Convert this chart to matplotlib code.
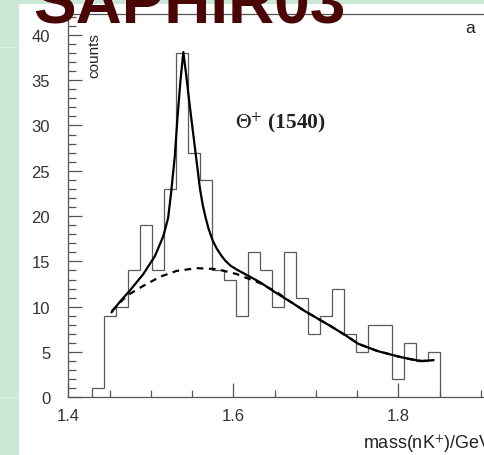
import numpy as np
import matplotlib
matplotlib.use("Agg")
import matplotlib.pyplot as plt
from matplotlib.patches import Rectangle
from matplotlib.ticker import MultipleLocator

plt.rcParams["font.family"] = ["Liberation Sans", "DejaVu Sans"]
plt.rcParams["mathtext.fontset"] = "stix"

# nK+ invariant mass spectrum, 29 bins
counts = [1, 9, 10, 14, 19, 14, 23, 38, 27, 24, 14, 13, 9, 16, 14,
          10, 16, 11, 7, 9, 12, 7, 5, 8, 8, 2, 6, 4, 5]
bin_lo, bin_hi = 1.429, 1.851

# full fit (peak + background)
fit_mass = [1.4526, 1.4630, 1.4748, 1.4909, 1.5051, 1.5152, 1.5210, 1.5245,
            1.5290, 1.5322, 1.5360, 1.5394, 1.5430, 1.5460, 1.5496, 1.5550,
            1.5596, 1.5630, 1.5665, 1.5700, 1.5750, 1.5800, 1.5850, 1.5900,
            1.5970, 1.6041, 1.6182, 1.6324, 1.6505, 1.6700, 1.6869, 1.7172,
            1.7350, 1.7515, 1.7750, 1.8000, 1.8150, 1.8284, 1.8424]
fit_total = [9.4, 10.6, 11.8, 13.6, 15.6, 17.8, 19.8, 22.5,
             26.5, 30.7, 35.0, 38.1, 35.5, 33.1, 30.4, 26.4,
             23.0, 21.2, 19.8, 18.6, 17.3, 16.4, 15.7, 15.1,
             14.5, 14.1, 13.4, 12.7, 11.6, 10.5, 9.5, 7.9,
             6.9, 5.9, 5.1, 4.5, 4.2, 4.0, 4.1]

# background part of the fit
bkg_mass = [1.4526, 1.4707, 1.4909, 1.5111, 1.5313, 1.5556, 1.5799, 1.6041,
            1.6324, 1.6526, 1.6700, 1.6869, 1.7172, 1.7350, 1.7515, 1.7750,
            1.8000, 1.8150, 1.8284, 1.8424]
bkg_counts = [9.5, 11.2, 12.3, 13.3, 13.95, 14.25, 14.15, 13.6,
              12.6, 11.6, 10.5, 9.5, 7.9, 6.9, 5.9, 5.1,
              4.5, 4.2, 4.0, 4.1]

W, H = 485, 456
fig = plt.figure(figsize=(W / 100, H / 100), dpi=100)
fig.patch.set_facecolor("#c9e8d5")
fig.add_artist(Rectangle((19 / W, 0), 1, (H - 5) / H, transform=fig.transFigure,
                         facecolor="white", edgecolor="none", zorder=-1))
for yy in (48, 398):
    fig.add_artist(plt.Line2D([0, 19 / W], [1 - yy / H] * 2, transform=fig.transFigure,
                              color="#dcefe3", lw=1, zorder=-1))

ax = fig.add_axes([68.3 / W, 57.7 / H, (505.6 - 68.3) / W, (441 - 57.7) / H])
ax.set_facecolor("white")

edges = np.linspace(bin_lo, bin_hi, len(counts) + 1)
ax.stairs(counts, edges, color="#5a5a5a", lw=0.9)
ax.plot(bkg_mass, bkg_counts, color="black", lw=1.6, ls=(0, (3, 2.5)))
ax.plot(fit_mass, fit_total, color="black", lw=1.6)

ax.set_xlim(1.4, 1.93)
ax.set_ylim(0, 42.3)
ax.xaxis.set_major_locator(MultipleLocator(0.2))
ax.xaxis.set_minor_locator(MultipleLocator(0.05))
ax.yaxis.set_major_locator(MultipleLocator(5))
ax.yaxis.set_minor_locator(MultipleLocator(1))
ax.xaxis.set_major_formatter(plt.FuncFormatter(lambda v, p: f"{v:.1f}"))

ax.tick_params(which="both", direction="in", color="#555555", labelcolor="#333333",
               labelsize=12, width=0.9)
ax.tick_params(axis="x", which="major", length=10, pad=8)
ax.tick_params(axis="x", which="minor", length=5)
ax.tick_params(axis="y", which="major", length=10, pad=13)
ax.tick_params(axis="y", which="minor", length=5.5)
for s in ax.spines.values():
    s.set_color("#555555")
    s.set_linewidth(0.9)

ax.text(1.4312, 40.3, "counts", rotation=90, ha="center", va="top",
        fontsize=11, color="#222222")
ax.text(1.602, 29.8, r"$\Theta^{+}$ (1540)", family="Liberation Serif",
        fontweight="bold", fontsize=15.5, ha="left", va="baseline", color="#222222")
ax.text(1.887, 40.8, "a", ha="center", va="center", fontsize=12.5, color="#222222")

fig.text(363 / W, 7 / H, "mass(nK$^{+}$)/GeV", ha="left", va="baseline",
         fontsize=13, color="#222222")
fig.text(0.068, 1 - 23 / H, "SAPHIR03", ha="left", va="baseline", fontsize=46,
         fontweight="bold", color="#4a0505", zorder=10)

fig.savefig("out.png", dpi=100, facecolor=fig.get_facecolor())
